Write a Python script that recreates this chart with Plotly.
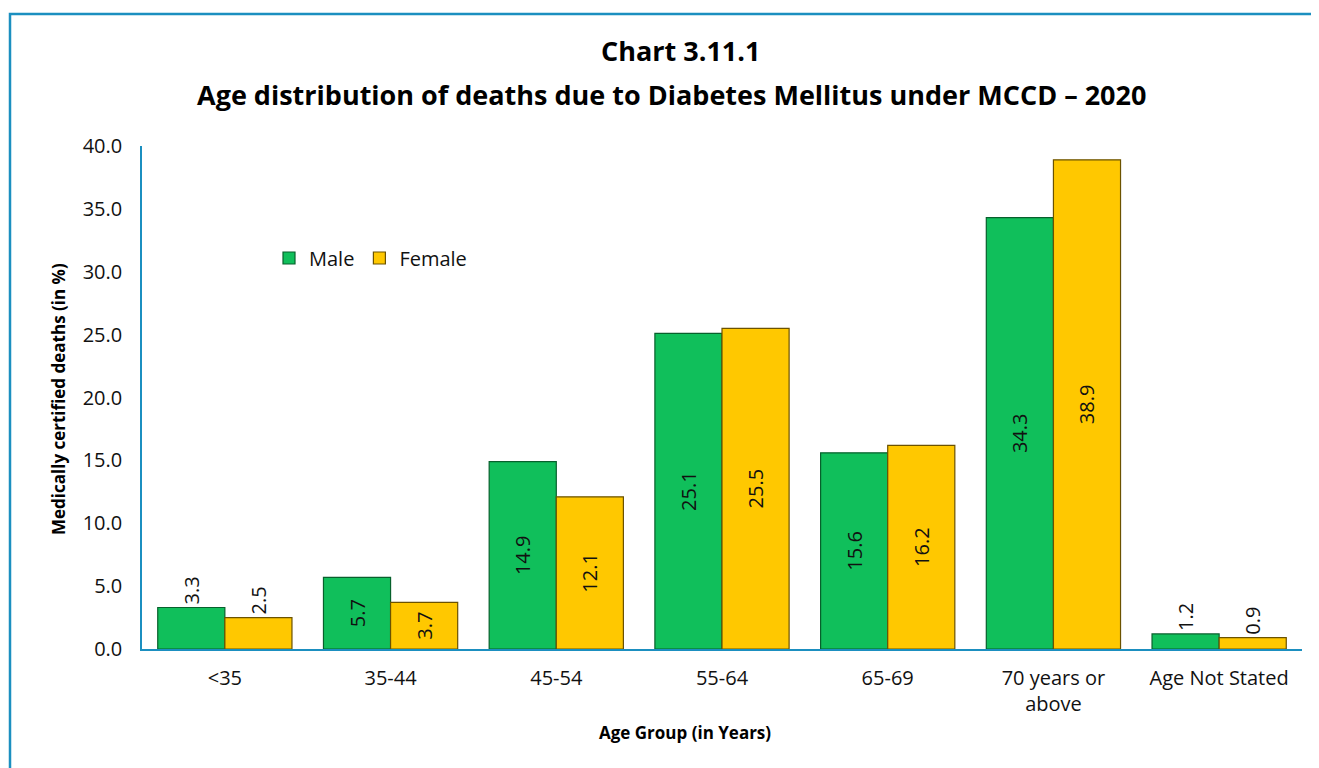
import plotly.graph_objects as go

categories = ["<35", "35-44", "45-54", "55-64", "65-69", "70 years or<br>above", "Age Not Stated"]
male = [3.3, 5.7, 14.9, 25.1, 15.6, 34.3, 1.2]
female = [2.5, 3.7, 12.1, 25.5, 16.2, 38.9, 0.9]
y_ticks = [0, 5, 10, 15, 20, 25, 30, 35, 40]

FONT = "Open Sans"
# figure is placed at (8,8) by the page's body margin; size chosen so it fills the window
W, H = 1311, 760
L, R, T, B = 134, 17, 138, 119
PW, PH = W - L - R, H - T - B

def px_to_paper_x(x):
    return (x - L) / PW

def px_to_paper_y(y):
    return (H - B - y) / PH

def positions(vals, force_out=(0, 6)):
    return ["outside" if i in force_out else "inside" for i in range(len(vals))]

fig = go.Figure()
fig.add_trace(go.Bar(
    name="Male", x=categories, y=male,
    marker=dict(color="#10BF5B", line=dict(color="#07602c", width=1.2)),
    text=[f"{v:.1f}" for v in male], textposition=positions(male),
    textangle=-90, insidetextanchor="middle",
    textfont=dict(family=FONT, size=20, color="#111"),
    cliponaxis=False,
))
fig.add_trace(go.Bar(
    name="Female", x=categories, y=female,
    marker=dict(color="#FFC800", line=dict(color="#6b5200", width=1.2)),
    text=[f"{v:.1f}" for v in female], textposition=positions(female),
    textangle=-90, insidetextanchor="middle",
    textfont=dict(family=FONT, size=20, color="#111"),
    cliponaxis=False,
))

fig.update_layout(
    width=W, height=H,
    margin=dict(l=L, r=R, t=T, b=B),
    paper_bgcolor="white", plot_bgcolor="white",
    barmode="group", bargap=0.19, bargroupgap=0,
    font=dict(family=FONT, size=20, color="#111"),
    legend=dict(
        orientation="h", x=px_to_paper_x(261), y=px_to_paper_y(250), xanchor="left", yanchor="middle",
        font=dict(family=FONT, size=20), bgcolor="rgba(0,0,0,0)", itemwidth=30,
    ),
    uniformtext=dict(mode=False),
    showlegend=True,
)
fig.update_yaxes(
    range=[0, 40], tickvals=y_ticks, ticktext=[f"{v:.1f}" for v in y_ticks],
    showgrid=False, zeroline=False, showline=True, linecolor="#1b8fc0", linewidth=1.5,
    ticks="", tickfont=dict(family=FONT, size=20), ticklabelstandoff=14,
)
fig.update_xaxes(
    showgrid=False, showline=True, linecolor="#1b8fc0", linewidth=1.5, ticks="",
    tickfont=dict(family=FONT, size=20), ticklabelstandoff=10,
)

# titles
fig.add_annotation(text="<b>Chart 3.11.1</b>", xref="paper", yref="paper",
                   x=px_to_paper_x(672), y=px_to_paper_y(42), xanchor="center", yanchor="middle",
                   showarrow=False, font=dict(family=FONT, size=27, color="#000"))
fig.add_annotation(text="<b>Age distribution of deaths due to Diabetes Mellitus under MCCD – 2020</b>",
                   xref="paper", yref="paper",
                   x=px_to_paper_x(663), y=px_to_paper_y(87), xanchor="center", yanchor="middle",
                   showarrow=False, font=dict(family=FONT, size=27, color="#000"))
fig.add_annotation(text="<b>Age Group (in Years)</b>", xref="paper", yref="paper",
                   x=px_to_paper_x(677), y=px_to_paper_y(724), xanchor="center", yanchor="middle",
                   showarrow=False, font=dict(family=FONT, size=17, color="#000"))
fig.add_annotation(text="<b>Medically certified deaths (in %)</b>", xref="paper", yref="paper",
                   x=px_to_paper_x(50), y=px_to_paper_y(391), xanchor="center", yanchor="middle",
                   textangle=-90, showarrow=False, font=dict(family=FONT, size=17, color="#000"))

fig.add_shape(type="rect", xref="paper", yref="paper",
              x0=px_to_paper_x(2), x1=px_to_paper_x(W + 20),
              y0=px_to_paper_y(H + 20), y1=px_to_paper_y(6),
              line=dict(color="#1b8fc0", width=2.5), fillcolor="rgba(0,0,0,0)", layer="below")

fig.write_html("out.html")
